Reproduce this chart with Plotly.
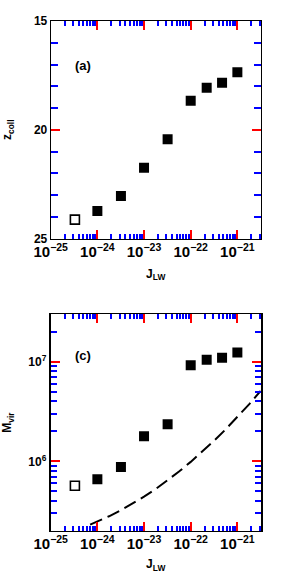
import plotly.graph_objects as go
from plotly.subplots import make_subplots

# ---- data ----
j_open = [3.3e-25]
z_open = [24.13]
j_filled = [1.0e-24, 3.2e-24, 1.0e-23, 3.2e-23, 1.0e-22, 2.2e-22, 4.7e-22, 1.0e-21]
z_filled = [23.73, 23.05, 21.75, 20.44, 18.67, 18.07, 17.84, 17.36]

m_open = [5.7e5]
m_filled = [6.6e5, 8.8e5, 1.79e6, 2.36e6, 9.25e6, 1.05e7, 1.1e7, 1.24e7]

j_line = [7.0e-25, 1.0e-24, 1.78e-24, 3.16e-24, 5.62e-24, 1.0e-23, 1.78e-23, 3.16e-23,
          5.62e-23, 1.0e-22, 1.78e-22, 3.16e-22, 5.62e-22, 1.0e-21, 1.78e-21, 3.16e-21]
m_line = [2.32e5, 2.48e5, 2.81e5, 3.22e5, 3.74e5, 4.42e5, 5.28e5, 6.42e5,
          7.91e5, 9.89e5, 1.25e6, 1.61e6, 2.10e6, 2.79e6, 3.74e6, 5.10e6]

x_range_log = [-25, -20.5]
z_range = [25, 15]
m_range_log = [5.301, 7.477]
m_tickvals = [1e6, 1e7]
m_ticktext = ["10<sup>6</sup>", "10<sup>7</sup>"]

fig = make_subplots(rows=2, cols=1)

sq_filled = dict(symbol="square", size=10, color="black", line=dict(width=0))
sq_open = dict(symbol="square-open", size=9, color="black", line=dict(width=1.6))

fig.add_trace(go.Scatter(x=j_filled, y=z_filled, mode="markers", marker=sq_filled,
                         showlegend=False), row=1, col=1)
fig.add_trace(go.Scatter(x=j_open, y=z_open, mode="markers", marker=sq_open,
                         showlegend=False), row=1, col=1)
fig.add_trace(go.Scatter(x=j_line, y=m_line, mode="lines",
                         line=dict(color="black", width=2, dash="13px,6px"),
                         showlegend=False), row=2, col=1)
fig.add_trace(go.Scatter(x=j_filled, y=m_filled, mode="markers", marker=sq_filled,
                         showlegend=False), row=2, col=1)
fig.add_trace(go.Scatter(x=j_open, y=m_open, mode="markers", marker=sq_open,
                         showlegend=False), row=2, col=1)

W, H = 281, 581
x0, x1 = 50.7, 260.7
top_y0, top_y1 = 21, 238.5
bot_y0, bot_y1 = 314.3, 531.0

font_fam = "Liberation Sans"
tickfont = dict(family=font_fam, size=12, color="black", weight="bold")
titlefont = dict(family=font_fam, size=12, color="black", weight="bold")
MAJ = "red"
MIN = "blue"

def xaxis_style(standoff):
    return dict(type="log", range=x_range_log, dtick=1, exponentformat="power",
                showline=True, linewidth=1, linecolor="black", mirror="ticks",
                ticks="inside", ticklen=9, tickwidth=2, tickcolor=MAJ,
                showgrid=False, zeroline=False, tickfont=tickfont,
                minor=dict(ticks="inside", ticklen=5, tickwidth=2, tickcolor=MIN,
                           dtick="D1", showgrid=False),
                title=dict(text="J<sub>LW</sub>", font=titlefont, standoff=standoff),
                domain=[x0 / W, x1 / W], automargin=False)

fig.update_layout(
    width=W, height=H, margin=dict(l=0, r=0, t=0, b=0),
    paper_bgcolor="white", plot_bgcolor="white",
    xaxis=xaxis_style(10),
    xaxis2=xaxis_style(8),
    yaxis=dict(range=z_range, dtick=5, showline=True, linewidth=1, linecolor="black",
               mirror="ticks", ticks="inside", ticklen=9, tickwidth=2, tickcolor=MAJ,
               showgrid=False, zeroline=False, tickfont=tickfont,
               minor=dict(ticks="inside", ticklen=7, tickwidth=2, tickcolor=MIN,
                          dtick=1, showgrid=False),
               title=dict(text="z<sub>coll</sub>", font=titlefont, standoff=19),
               domain=[1 - top_y1 / H, 1 - top_y0 / H], automargin=False),
    yaxis2=dict(type="log", range=m_range_log, tickvals=m_tickvals, ticktext=m_ticktext,
                showline=True, linewidth=2, linecolor="black",
                mirror="ticks", ticks="inside", ticklen=9, tickwidth=2, tickcolor=MAJ,
                showgrid=False, zeroline=False, tickfont=tickfont,
                minor=dict(ticks="inside", ticklen=6, tickwidth=2, tickcolor=MIN,
                           dtick="D1", showgrid=False),
                title=dict(text="M<sub>vir</sub>", font=titlefont, standoff=14),
                domain=[1 - bot_y1 / H, 1 - bot_y0 / H], automargin=False),
    annotations=[
        dict(text="(a)", x=0.106, y=0.797, xref="x domain", yref="y domain",
             xanchor="left", yanchor="middle", showarrow=False,
             font=dict(family=font_fam, size=13, color="black", weight="bold")),
        dict(text="(c)", x=0.106, y=0.812, xref="x2 domain", yref="y2 domain",
             xanchor="left", yanchor="middle", showarrow=False,
             font=dict(family=font_fam, size=13, color="black", weight="bold")),
    ],
)

fig.write_html("out.html", config={"displayModeBar": False},
               post_script="document.body.style.margin='0';document.body.style.overflow='hidden';")
